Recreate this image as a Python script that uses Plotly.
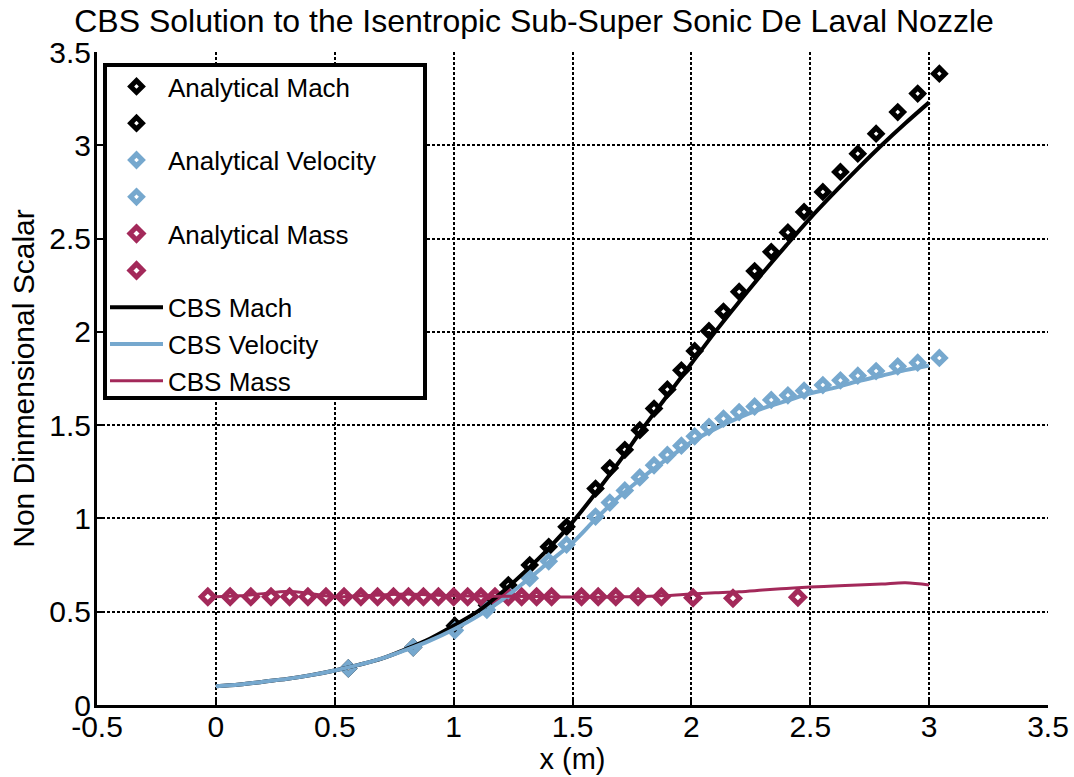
import plotly.graph_objects as go

# ---- Analytical solution (subsonic / supersonic branches) ----
x_an_sub = [0.557, 0.83, 1.005, 1.14, 1.23, 1.32, 1.40, 1.475]
x_an_sup = [1.597, 1.657, 1.72, 1.783, 1.843, 1.899, 1.958, 2.014, 2.074, 2.135,
            2.201, 2.266, 2.336, 2.406, 2.474, 2.553, 2.627, 2.70, 2.777, 2.868,
            2.952, 3.043]

mach_an_sub = [0.196, 0.309, 0.425, 0.535, 0.643, 0.75, 0.848, 0.955]
mach_an_sup = [1.16, 1.27, 1.368, 1.473, 1.589, 1.691, 1.794, 1.898, 2.005, 2.109,
               2.215, 2.326, 2.429, 2.533, 2.643, 2.75, 2.857, 2.955, 3.062, 3.178,
               3.277, 3.384]

vel_an_sub = [0.196, 0.309, 0.40, 0.51, 0.59, 0.68, 0.77, 0.86]
vel_an_sup = [1.01, 1.085, 1.15, 1.22, 1.285, 1.34, 1.39, 1.44, 1.49, 1.535,
              1.57, 1.60, 1.635, 1.66, 1.685, 1.715, 1.74, 1.765, 1.79, 1.815,
              1.835, 1.86]

x_mass_sub = [-0.034, 0.06, 0.147, 0.232, 0.31, 0.387, 0.463, 0.539, 0.61, 0.68,
              0.747, 0.81, 0.873, 0.936, 1.0, 1.059, 1.115, 1.174, 1.23, 1.286,
              1.349, 1.412]
mass_an_sub = [0.58] * len(x_mass_sub)
x_mass_sup = [1.538, 1.608, 1.682, 1.776, 1.874, 2.007, 2.175, 2.448]
mass_an_sup = [0.58, 0.58, 0.58, 0.58, 0.58, 0.575, 0.572, 0.578]

# ---- CBS numerical solution ----
x_cbs = [0.0, 0.1, 0.2, 0.3, 0.4, 0.5, 0.6, 0.7, 0.8, 0.9, 1.0, 1.1, 1.2, 1.3,
         1.4, 1.5, 1.6, 1.7, 1.8, 1.9, 2.0, 2.1, 2.2, 2.3, 2.4, 2.5, 2.6, 2.7,
         2.8, 2.9, 3.0]
mach_cbs = [0.10, 0.11, 0.125, 0.14, 0.16, 0.185, 0.215, 0.25, 0.30, 0.355,
            0.425, 0.50, 0.60, 0.715, 0.84, 0.98, 1.14, 1.31, 1.49, 1.66,
            1.83, 2.0, 2.16, 2.315, 2.465, 2.61, 2.745, 2.875, 3.0, 3.118, 3.23]
vel_cbs = [0.10, 0.11, 0.125, 0.14, 0.16, 0.185, 0.215, 0.25, 0.295, 0.345,
           0.405, 0.475, 0.56, 0.66, 0.765, 0.87, 1.0, 1.12, 1.225, 1.32,
           1.41, 1.48, 1.54, 1.59, 1.63, 1.67, 1.70, 1.735, 1.765, 1.795, 1.82]
mass_cbs = [0.58, 0.585, 0.597, 0.608, 0.597, 0.58, 0.585, 0.59, 0.595, 0.59,
            0.585, 0.584, 0.583, 0.582, 0.58, 0.579, 0.578, 0.58, 0.582, 0.587,
            0.595, 0.601, 0.607, 0.616, 0.625, 0.632, 0.638, 0.643, 0.648, 0.655,
            0.643]

x_ticks = [-0.5, 0, 0.5, 1, 1.5, 2, 2.5, 3, 3.5]
x_tick_text = ["-0.5", "0", "0.5", "1", "1.5", "2", "2.5", "3", "3.5"]
y_ticks = [0, 0.5, 1, 1.5, 2, 2.5, 3, 3.5]
y_tick_text = ["0", "0.5", "1", "1.5", "2", "2.5", "3", "3.5"]

BLACK = "#000000"
BLUE = "#76a8ce"
RED = "#a3295a"
FONT = "Liberation Sans, Arial, sans-serif"

fig = go.Figure()


def markers(x, y, color, name, size=9):
    fig.add_trace(go.Scatter(
        x=x, y=y, mode="markers", name=name,
        marker=dict(symbol="diamond-open", size=size, color=color,
                    line=dict(color=color, width=5)),
    ))


markers(x_an_sub, mach_an_sub, BLACK, "Analytical Mach")
markers(x_an_sup, mach_an_sup, BLACK, " ")
markers(x_an_sub, vel_an_sub, BLUE, "Analytical Velocity")
markers(x_an_sup, vel_an_sup, BLUE, "  ")
markers(x_mass_sub, mass_an_sub, RED, "Analytical Mass", size=10)
markers(x_mass_sup, mass_an_sup, RED, "   ", size=10)

fig.add_trace(go.Scatter(x=x_cbs, y=mach_cbs, mode="lines", name="CBS Mach",
                         line=dict(color=BLACK, width=4, shape="spline")))
fig.add_trace(go.Scatter(x=x_cbs, y=vel_cbs, mode="lines", name="CBS Velocity",
                         line=dict(color=BLUE, width=4, shape="spline")))
fig.add_trace(go.Scatter(x=x_cbs, y=mass_cbs, mode="lines", name="CBS Mass",
                         line=dict(color=RED, width=3, shape="spline")))

axis_common = dict(
    showgrid=True, gridcolor=BLACK, gridwidth=2, griddash="3px,2px",
    showline=True, linecolor=BLACK, linewidth=3,
    ticks="inside", ticklen=6, tickwidth=2, tickcolor=BLACK,
    zeroline=False, mirror=False, automargin=False,
    tickfont=dict(family=FONT, size=30, color=BLACK),
)

fig.update_xaxes(range=[-0.5, 3.5], tickvals=x_ticks, ticktext=x_tick_text,
                 ticklabelstandoff=-7,
                 title=dict(text="x (m)", font=dict(family=FONT, size=29, color=BLACK),
                            standoff=0),
                 **axis_common)
fig.update_yaxes(range=[0, 3.5], tickvals=y_ticks, ticktext=y_tick_text,
                 ticklabelstandoff=-3,
                 title=dict(text="Non Dinmensional Scalar",
                            font=dict(family=FONT, size=30, color=BLACK),
                            standoff=6),
                 **axis_common)

# legend frame
fig.add_shape(type="rect", xref="paper", yref="paper",
              x0=(105 - 97) / 951, x1=(425 - 97) / 951,
              y0=(705 - 398) / 653, y1=(705 - 65) / 653,
              line=dict(color=BLACK, width=4), fillcolor="white", layer="above")

fig.update_layout(
    width=1074, height=777,
    margin=dict(l=97, r=26, t=52, b=72, autoexpand=False),
    paper_bgcolor="white", plot_bgcolor="white",
    font=dict(family=FONT, color=BLACK),
    title=dict(text="CBS Solution to the Isentropic Sub-Super Sonic De Laval Nozzle",
               font=dict(family=FONT, size=32, color=BLACK),
               x=534 / 1074, xref="container", xanchor="center",
               y=1 - 21 / 777, yref="container", yanchor="middle"),
    legend=dict(x=(105 - 97) / 951, xanchor="left",
                y=(705 - 63) / 653, yanchor="top",
                bgcolor="rgba(0,0,0,0)", borderwidth=0,
                itemwidth=53, font=dict(family=FONT, size=26, color=BLACK),
                tracegroupgap=0),
    showlegend=True,
)

fig.write_html("out.html")
